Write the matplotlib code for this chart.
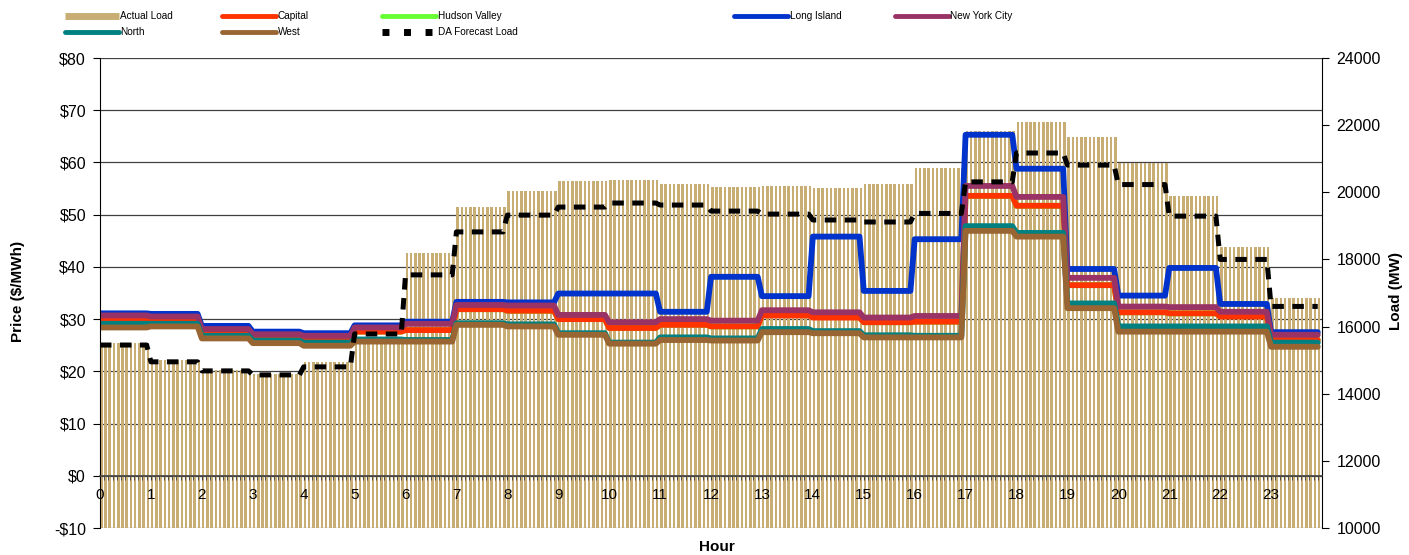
"""Real-time zonal prices vs. actual / day-ahead forecast load, by hour."""
import matplotlib.pyplot as plt
import numpy as np
from matplotlib.lines import Line2D
from matplotlib.ticker import FuncFormatter, MultipleLocator

plt.rcParams["font.family"] = ["Liberation Sans", "DejaVu Sans"]

# hourly values, each hour is held for 12 five-minute intervals
hours = list(range(24))
actual_load = [15500, 15000, 14700, 14600, 14950, 15500, 18190, 19550, 20040, 20340,
               20370, 20250, 20160, 20190, 20130, 20250, 20710, 21830, 22100, 21650,
               20880, 19880, 18370, 16850]
da_forecast_load = [15450, 14950, 14680, 14560, 14800, 15780, 17540, 18820, 19320, 19560,
                    19680, 19620, 19440, 19350, 19175, 19115, 19370, 20310, 21170, 20810,
                    20230, 19290, 18000, 16600]

capital = [30.0, 29.9, 27.5, 26.6, 26.1, 27.6, 27.9, 31.9, 31.6, 30.0, 28.3, 28.9,
           28.6, 30.7, 30.3, 29.4, 29.5, 53.6, 51.7, 36.5, 31.3, 31.1, 30.5, 26.0]
hudson_valley = [30.0, 29.9, 27.5, 26.6, 26.1, 27.6, 27.9, 31.9, 31.6, 30.0, 28.3, 28.9,
                 28.6, 30.8, 30.4, 29.4, 29.5, 53.6, 51.7, 36.5, 31.3, 31.1, 30.6, 26.0]
long_island = [31.1, 31.0, 28.7, 27.6, 27.3, 28.8, 29.5, 33.3, 33.2, 34.9, 34.9, 31.4,
               38.1, 34.4, 45.8, 35.4, 45.3, 65.3, 58.8, 39.6, 34.5, 39.8, 32.9, 27.5]
new_york_city = [30.7, 30.5, 28.1, 27.1, 26.8, 28.4, 29.1, 32.7, 32.6, 30.8, 29.4, 30.0,
                 29.7, 31.7, 31.3, 30.3, 30.6, 55.5, 53.4, 37.9, 32.4, 32.3, 31.4, 27.0]
north = [29.1, 29.1, 26.8, 25.9, 25.5, 26.1, 26.0, 29.2, 29.0, 27.3, 25.5, 26.5,
         26.3, 28.1, 27.7, 26.9, 26.8, 47.8, 46.5, 33.0, 28.6, 28.6, 28.6, 25.5]
west = [28.4, 28.6, 26.3, 25.4, 24.9, 25.7, 25.7, 28.9, 28.6, 27.0, 25.3, 26.0,
        25.9, 27.5, 27.3, 26.5, 26.5, 46.9, 45.8, 32.1, 27.6, 27.6, 27.6, 24.7]

INTERVALS = 12
TAN = "#C8AE74"
zones = [
    ("Hudson Valley", hudson_valley, "#66FF33"),
    ("Capital", capital, "#FF3300"),
    ("Long Island", long_island, "#0033CC"),
    ("New York City", new_york_city, "#993366"),
    ("North", north, "#008080"),
    ("West", west, "#996633"),
]
W, H = 1409, 555


def to_intervals(values):
    return np.repeat(np.asarray(values, dtype=float), INTERVALS)


def dollars(v, _pos):
    return f"-${abs(v):.0f}" if v < 0 else f"${v:.0f}"


fig = plt.figure(figsize=(W / 100, H / 100), dpi=100)
rect = [100 / W, (H - 528) / H, 1222 / W, 470 / H]
t = np.arange(len(hours) * INTERVALS) / INTERVALS

# bottom layer: price grid + left axis
ax_grid = fig.add_axes(rect)
ax_grid.set_xlim(0, 24)
ax_grid.set_ylim(-10, 80)
ax_grid.yaxis.set_major_locator(MultipleLocator(10))
ax_grid.yaxis.set_major_formatter(FuncFormatter(dollars))
ax_grid.grid(axis="y", color="#404040", lw=0.9)
ax_grid.xaxis.set_visible(False)
ax_grid.tick_params(axis="y", length=5, pad=5, labelsize=11.5)
for s in ax_grid.spines.values():
    s.set_visible(False)

# load bars
ax_load = ax_grid.twinx()
ax_load.set_zorder(1)
ax_load.patch.set_visible(False)
ax_load.bar(t, to_intervals(actual_load), width=0.6 / INTERVALS, align="edge",
            color=TAN, linewidth=0)
ax_load.set_ylim(10000, 24000)
ax_load.set_yticks(range(10000, 24001, 2000))
ax_load.tick_params(axis="y", length=5, pad=5.5, labelsize=11.5)
for s in ax_load.spines.values():
    s.set_visible(False)

# zonal prices + hour axis at $0
ax_price = ax_grid.twinx()
ax_price.set_zorder(2)
ax_price.patch.set_visible(False)
for name, vals, color in zones:
    ax_price.plot(t, to_intervals(vals), color=color, lw=4.2,
                  solid_capstyle="round", solid_joinstyle="round")
ax_price.set_ylim(-10, 80)
ax_price.yaxis.set_visible(False)
ax_price.xaxis.set_visible(True)
ax_price.set_xticks(hours)
ax_price.xaxis.set_minor_locator(MultipleLocator(1 / INTERVALS))
ax_price.tick_params(axis="x", which="both", direction="out", length=3,
                     color="#404040", labelsize=11, pad=6)
ax_price.spines["bottom"].set_position(("data", 0))
ax_price.spines["bottom"].set_color("#404040")
ax_price.spines["bottom"].set_linewidth(1.2)
ax_price.spines["top"].set_visible(False)
ax_price.spines["left"].set_color("black")
ax_price.spines["right"].set_color("black")

# day-ahead forecast on top
ax_da = ax_grid.twinx()
ax_da.set_zorder(3)
ax_da.plot(t, to_intervals(da_forecast_load), color="black", lw=3.6,
           linestyle=(0, (2.3, 1.7)))
ax_da.set_ylim(10000, 24000)
ax_da.axis("off")

fig.text(18 / W, 1 - 291 / H, "Price ($/MWh)", rotation=90, ha="center", va="center",
         fontsize=11, fontweight="bold")
fig.text(1396 / W, 1 - 291 / H, "Load (MW)", rotation=90, ha="center", va="center",
         fontsize=11, fontweight="bold")
fig.text(717 / W, 1 - 547 / H, "Hour", ha="center", va="center",
         fontsize=11, fontweight="bold")

# legend, laid out column by column like the original
colors = {name: color for name, _, color in zones}


def zone_handle(name):
    return Line2D([], [], color=colors[name], lw=3.5, solid_capstyle="round")


load_handle = Line2D([], [], color=TAN, lw=5, solid_capstyle="butt")
da_handle = Line2D([], [], color="black", lw=5, linestyle=(0, (1, 2.1)))
legend_cols = [
    (65, [(load_handle, "Actual Load"), (zone_handle("North"), "North")]),
    (222, [(zone_handle("Capital"), "Capital"), (zone_handle("West"), "West")]),
    (382, [(zone_handle("Hudson Valley"), "Hudson Valley"), (da_handle, "DA Forecast Load")]),
    (734, [(zone_handle("Long Island"), "Long Island")]),
    (895, [(zone_handle("New York City"), "New York City")]),
]
for x0, entries in legend_cols:
    handles, labels = zip(*entries)
    fig.legend(handles, labels, loc="upper left", bbox_to_anchor=(x0 / W, 1 - 11 / H),
               frameon=False, fontsize=7.2, handlelength=5.4, handletextpad=0.15,
               borderpad=0, borderaxespad=0, labelspacing=0.6)

fig.savefig("out.png", dpi=100)
